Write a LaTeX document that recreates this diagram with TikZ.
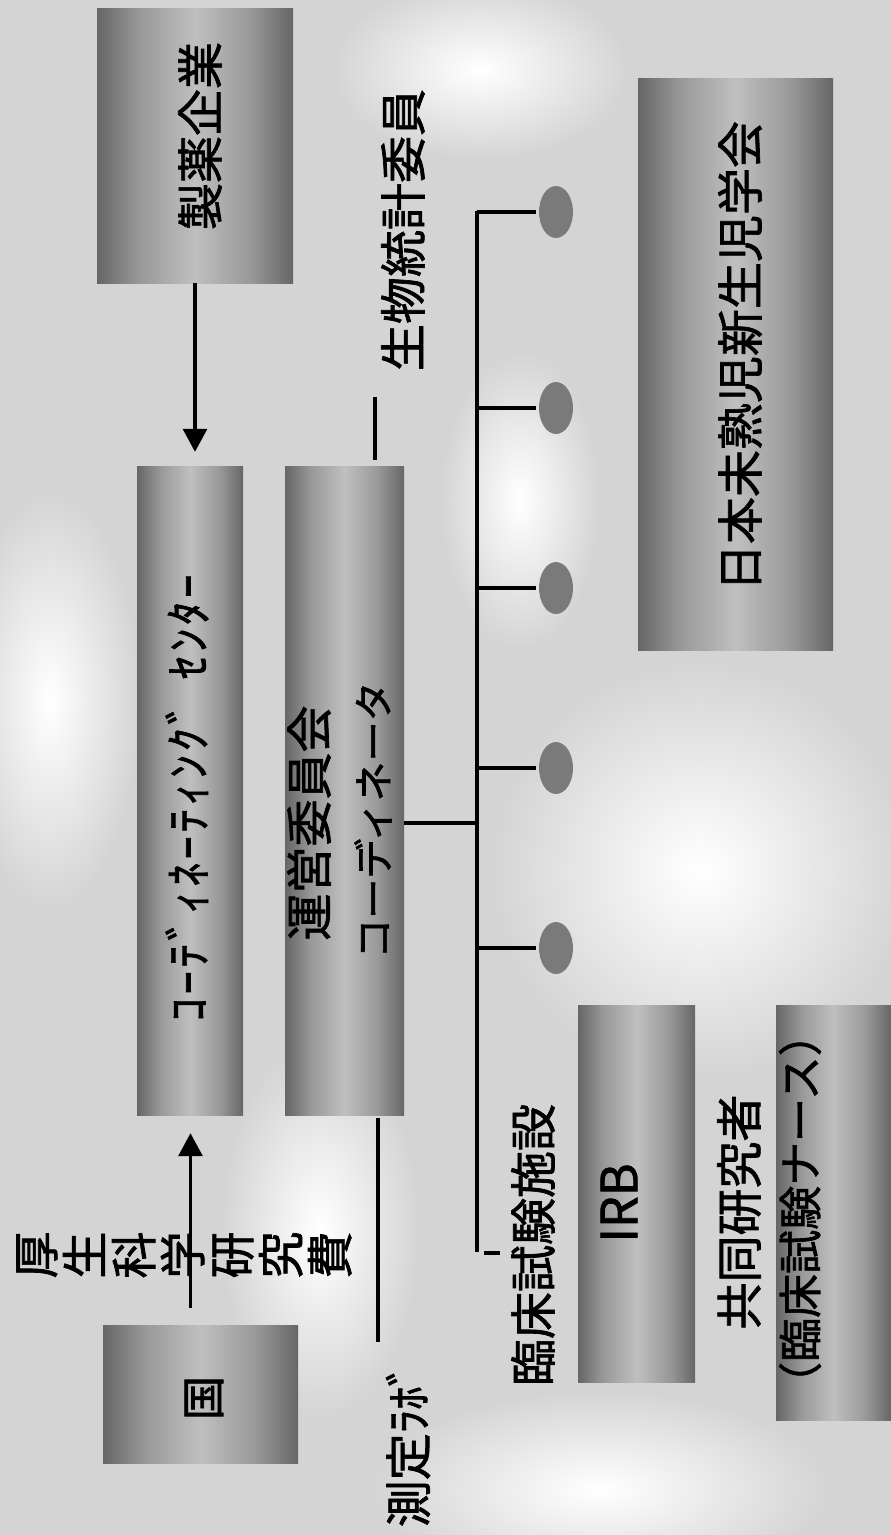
\documentclass[tikz,border=0pt]{standalone}
\usepackage{fontspec}
\setmainfont{Noto Sans CJK JP}[FakeBold=1.5]
\usetikzlibrary{arrows.meta,calc,shapes.geometric}
\definecolor{bgcol}{gray}{0.83}
\pgfdeclarehorizontalshading{boxshade}{100bp}{color(0bp)=(black!60); color(25bp)=(black!60); color(36bp)=(black!40); color(50bp)=(black!25); color(64bp)=(black!40); color(75bp)=(black!60); color(100bp)=(black!60)}
\tikzset{
  box/.style={rectangle, draw=none, shading=boxshade, inner sep=0pt},
  lbl/.style={rotate=90, inner sep=0pt, font=\fontsize{47}{49}\selectfont},
  conn/.style={line width=3.2pt},
  arr/.style={line width=3.2pt, -{Triangle[width=24pt,length=23pt]}},
  blob/.style={ellipse, draw=none, inner sep=0pt, inner color=white, outer color=bgcol},
  dot/.style={ellipse, draw=none, fill=black!52, minimum width=34pt, minimum height=52pt, inner sep=0pt}
}
\begin{document}
\begin{tikzpicture}[x=1pt,y=-1pt]
\useasboundingbox (0,0) rectangle (891,1535);
\fill[bgcol] (0,0) rectangle (891,1535);
% lighter mottled patches of the background
\node[blob, minimum width=420pt, minimum height=420pt] (w1) at (700,870) {};
\node[blob, minimum width=460pt, minimum height=200pt] (w2) at (600,1490) {};
\node[blob, minimum width=200pt, minimum height=380pt] (w3) at (320,1230) {};
\node[blob, minimum width=300pt, minimum height=180pt] (w4) at (480,70) {};
\node[blob, minimum width=180pt, minimum height=420pt] (w5) at (50,700) {};
\node[blob, minimum width=160pt, minimum height=300pt] (w6) at (520,500) {};

% boxes
\node[box, minimum width=196pt, minimum height=275pt] (seiyaku) at (195,145.5) {};
\node[box, minimum width=106pt, minimum height=649pt] (box1) at (190,790.5) {};
\node[box, minimum width=119pt, minimum height=649pt] (box2) at (344.5,790.5) {};
\node[box, minimum width=195pt, minimum height=138pt] (kuni) at (200.5,1394) {};
\node[box, minimum width=195pt, minimum height=572pt] (nihon) at (735.5,364) {};
\node[box, minimum width=117pt, minimum height=377pt] (irb) at (636.5,1193.5) {};
\node[box, minimum width=115pt, minimum height=415pt] (kyodo) at (833.5,1212.5) {};

% texts
\node[lbl] (tseiyaku) at (200,136) {製薬企業};
\node[lbl] (tcenter) at (187,798) {ｺ\kern3.5pt ｰ\kern3.5pt ﾃ\kern3.5pt ﾞ\kern3.5pt ｨ\kern3.5pt ﾈ\kern3.5pt ｰ\kern3.5pt ﾃ\kern3.5pt ｨ\kern3.5pt ﾝ\kern3.5pt ｸ\kern3.5pt ﾞ\kern22pt ｾ\kern3.5pt ﾝ\kern3.5pt ﾀ\kern3.5pt ｰ};
\node[lbl] (tunei) at (309,823) {運営委員会};
\node[lbl, font=\fontsize{40}{42}\selectfont] (tcoord) at (373,820) {コーディネータ};
\node[lbl, font=\fontsize{44}{46}\selectfont] (tkuni) at (204,1398) {国};
\node[lbl, align=center] (tkousei) at (184,1255) {厚\\生\\科\\学\\研\\究\\費};
\node[lbl] (tsoku) at (408,1445) {測定ﾗﾎﾞ};
\node[lbl] (tbio) at (403,230) {生物統計委員};
\node[lbl] (trinsho) at (533,1245) {臨床試験施設};
\node[lbl] (tnihon) at (740,356) {日本未熟児新生児学会};
\node[lbl, font=\fontsize{50}{52}\selectfont] (tirb) at (619,1203) {IRB};
\node[lbl] (tkyodo) at (739,1212) {共同研究者};
\node[lbl, font=\fontsize{44}{46}\selectfont] (tnurse) at (800,1209) {（臨床試験ナース）};

% arrows
\draw[arr, shorten >=14pt] (seiyaku.south) -- (seiyaku.south |- box1.north);
\coordinate (kunitop) at ($(kuni.north)+(-10,0)$);
\draw[arr, shorten <=17pt, shorten >=18pt] (kunitop) -- (kunitop |- box1.south);

% plain lines
\coordinate (labend) at (378,1342);
\draw[conn, shorten <=3pt] (labend |- box2.south) -- (labend);
\coordinate (bioend) at (375,397);
\draw[conn, shorten <=6pt] (bioend |- box2.north) -- (bioend);

% tree of facilities
\coordinate (trunktop) at (477,211);
\coordinate (trunkbot) at (477,1252);
\coordinate (hub) at (477,823);
\draw[conn] (hub -| box2.east) -- (hub);
\draw[conn] (trunktop) -- (trunkbot);
\draw[conn] ($(trunkbot)+(7,1)$) -- ++(16,0);
\foreach \i/\yy in {1/212,2/408,3/588,4/768,5/948}{
  \node[dot] (e\i) at (556,\yy) {};
  \draw[conn, shorten >=3pt] (e\i.west -| trunktop) -- (e\i.west);
}
\end{tikzpicture}
\end{document}
